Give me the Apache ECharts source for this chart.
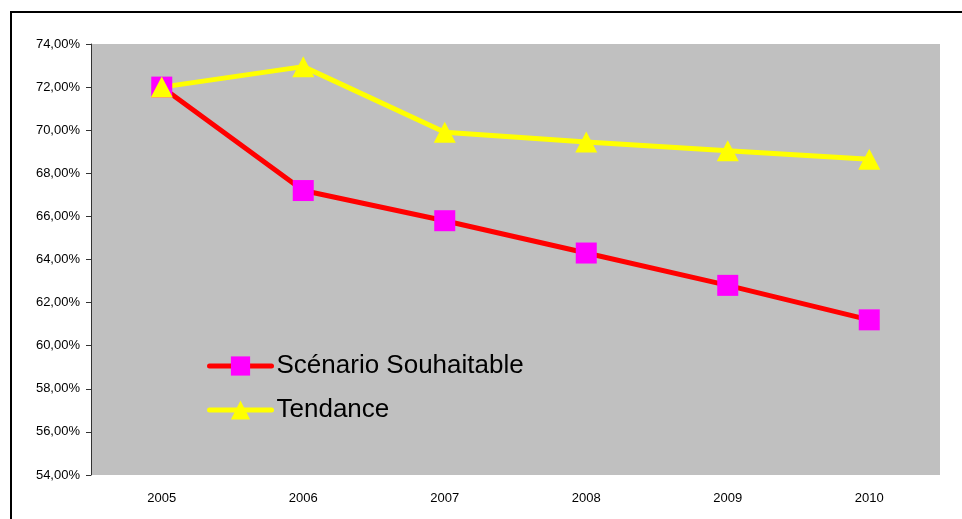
<!DOCTYPE html>
<html>
<head>
<meta charset="utf-8">
<script src="https://cdn.jsdelivr.net/npm/echarts@6/dist/echarts.min.js"></script>
<style>
  html, body { margin: 0; padding: 0; background: #fff; }
  #chart { width: 962px; height: 519px; }
</style>
</head>
<body>
<div id="chart"></div>
<script>
const years = ['2005', '2006', '2007', '2008', '2009', '2010']
const scenarioName = 'Scénario Souhaitable'
const tendanceName = 'Tendance'
// valeurs en %
const scenarioData = [72.0, 67.2, 65.8, 64.3, 62.8, 61.2]
const tendanceData = [72.0, 72.95, 69.9, 69.45, 69.05, 68.65]

const chart = echarts.init(document.getElementById('chart'), null, { renderer: 'canvas' })

const option = {
  backgroundColor: '#ffffff',
  animation: false,
  grid: {
    left: 91,
    top: 44,
    right: 22,
    bottom: 44,
    show: true,
    backgroundColor: '#c0c0c0',
    borderWidth: 0
  },
  // cadre autour du graphique
  graphic: [{
    type: 'rect',
    shape: { x: 11, y: 12, width: 980, height: 540 },
    style: { fill: 'none', stroke: '#000', lineWidth: 2 },
    silent: true
  }],
  legend: {
    orient: 'vertical',
    left: 202,
    top: 348,
    itemWidth: 62,
    itemHeight: 24,
    itemGap: 18,
    lineStyle: { width: 5, cap: 'round' },
    textStyle: {
      fontFamily: 'Liberation Sans, Arial',
      fontSize: 26,
      color: '#000',
      lineHeight: 26
    },
    data: [scenarioName, tendanceName]
  },
  xAxis: {
    type: 'category',
    data: years,
    boundaryGap: true,
    axisLine: { show: false },
    axisTick: { show: false },
    axisLabel: {
      color: '#000',
      fontFamily: 'Liberation Sans, Arial',
      fontSize: 13,
      margin: 17
    },
    splitLine: { show: false }
  },
  yAxis: {
    type: 'value',
    min: 54,
    max: 74,
    interval: 2,
    axisLine: { show: true, lineStyle: { color: '#333', width: 1 } },
    axisTick: { show: true, length: 5, lineStyle: { color: '#333' } },
    axisLabel: {
      color: '#000',
      fontFamily: 'Liberation Sans, Arial',
      fontSize: 13,
      margin: 11,
      formatter: function (v) {
        return v.toFixed(2).replace('.', ',') + '%'
      }
    },
    splitLine: { show: false }
  },
  series: [
    {
      name: scenarioName,
      type: 'line',
      data: scenarioData,
      symbol: 'rect',
      symbolSize: 21,
      lineStyle: { color: '#ff0000', width: 5 },
      itemStyle: { color: '#ff00ff', borderWidth: 0 }
    },
    {
      name: tendanceName,
      type: 'line',
      data: tendanceData,
      symbol: 'triangle',
      symbolSize: [22, 21],
      lineStyle: { color: '#ffff00', width: 5 },
      itemStyle: { color: '#ffff00', borderWidth: 0 }
    }
  ]
}

chart.setOption(option)
</script>
</body>
</html>
